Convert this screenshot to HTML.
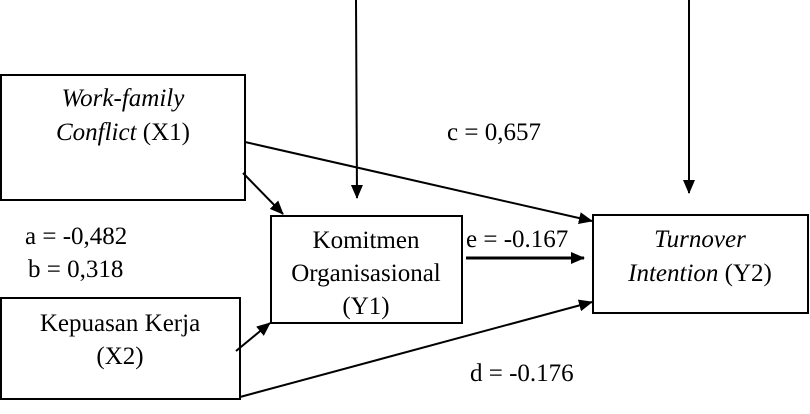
<!DOCTYPE html>
<html><head><meta charset="utf-8"><style>
html,body{margin:0;padding:0;background:#fff;}
svg{display:block;font-family:"Liberation Serif",serif;font-size:25px;}
</style></head><body>
<svg width="810" height="414" viewBox="0 0 810 414">
<defs><marker id="ah2" markerWidth="14" markerHeight="12" refX="13" refY="6" orient="auto" markerUnits="userSpaceOnUse"><path d="M0,0 L14,6 L0,12 z" fill="#000"/></marker></defs>
<g stroke="#000" stroke-width="2" fill="none">
<rect x="1" y="75" width="244" height="125"/>
<rect x="1" y="298" width="239" height="101"/>
<rect x="271" y="216" width="191" height="107"/>
<rect x="593" y="215" width="215" height="98"/>
<line x1="356" y1="0" x2="357" y2="198" marker-end="url(#ah2)"/>
<line x1="689" y1="0" x2="689" y2="193" marker-end="url(#ah2)"/>
<line x1="245" y1="142" x2="592" y2="221" marker-end="url(#ah2)"/>
<line x1="243" y1="173" x2="283" y2="214" marker-end="url(#ah2)"/>
<line x1="236" y1="351" x2="270" y2="323" marker-end="url(#ah2)"/>
<line x1="240" y1="397" x2="592" y2="302" marker-end="url(#ah2)"/>
<line x1="466" y1="258" x2="584" y2="258" stroke-width="3" marker-end="url(#ah2)"/>
</g>
<g fill="#000" text-anchor="middle">
<text x="123" y="106" font-style="italic">Work-family</text>
<text x="123" y="140"><tspan font-style="italic">Conflict</tspan> (X1)</text>
<text x="120" y="331">Kepuasan Kerja</text>
<text x="120" y="364">(X2)</text>
<text x="366" y="248">Komitmen</text>
<text x="366" y="281">Organisasional</text>
<text x="366" y="314">(Y1)</text>
<text x="700" y="247" font-style="italic">Turnover</text>
<text x="700" y="281"><tspan font-style="italic">Intention</tspan> (Y2)</text>
</g>
<g fill="#000">
<text x="447" y="140">c = 0,657</text>
<text x="25" y="244">a = -0,482</text>
<text x="28" y="277">b = 0,318</text>
<text x="466" y="247">e = -0.167</text>
<text x="470" y="381">d = -0.176</text>
</g>
</svg>
</body></html>
